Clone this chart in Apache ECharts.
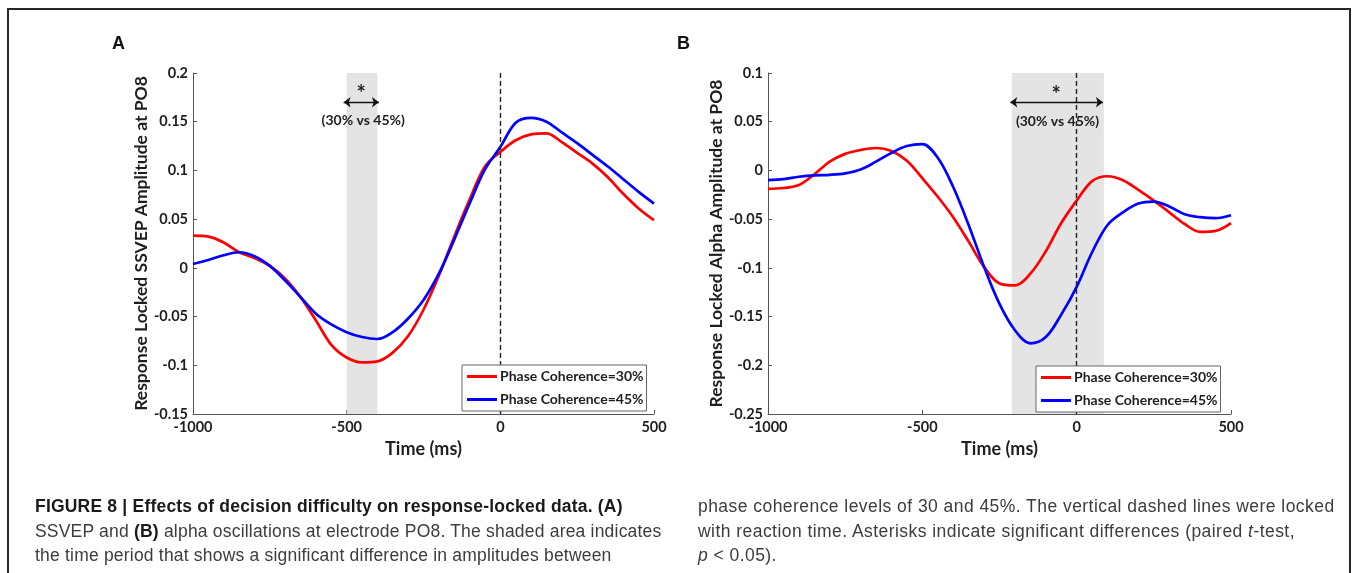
<!DOCTYPE html>
<html>
<head>
<meta charset="utf-8">
<script src="https://cdn.jsdelivr.net/npm/echarts@6/dist/echarts.min.js"></script>
<style>
    html, body { margin: 0; padding: 0; background: #fff; }
    #wrap { position: relative; width: 1355px; height: 573px; overflow: hidden; }
    #chart { position: absolute; left: 0; top: 0; width: 1355px; height: 573px; }
    #frame { position: absolute; left: 7px; top: 8px; width: 1344px; height: 600px; border: 2px solid #262626; box-sizing: border-box; pointer-events: none; }
    .caption { position: absolute; top: 494px; font-family: "Liberation Sans", Arial, sans-serif; font-size: 17.5px; letter-spacing: 0.2px; line-height: 24.7px; color: #3c3c3c; white-space: nowrap; }
    .caption b { color: #1a1a1a; letter-spacing: 0.2px; }
</style>
</head>
<body>
<div id="wrap">
    <div id="chart"></div>
    <div id="frame"></div>
    <div class="caption" style="left:35px"><b>FIGURE 8 | Effects of decision difficulty on response-locked data. (A)</b><br>SSVEP and <b>(B)</b> alpha oscillations at electrode PO8. The shaded area indicates<br>the time period that shows a significant difference in amplitudes between</div>
    <div class="caption" style="left:698px; letter-spacing:0.45px">phase coherence levels of 30 and 45%. The vertical dashed lines were locked<br>with reaction time. Asterisks indicate significant differences (paired <i>t</i>-test,<br><i>p</i> &lt; 0.05).</div>
</div>
<script>
document.addEventListener('DOMContentLoaded', function() {

    const timeMs = [-1000, -950, -900, -850, -800, -750, -700, -650, -600, -550, -500, -450, -400, -350, -300, -250,
        -200, -150, -100, -50, 0, 50, 100, 150, 200, 250, 300, 350, 400, 450, 500];

    // panel A: SSVEP amplitude
    const ssvep30 = [0.033, 0.032, 0.026, 0.016, 0.010, 0.002, -0.011, -0.030, -0.054, -0.079, -0.092, -0.097, -0.096, -0.087, -0.070, -0.043,
        -0.008, 0.032, 0.070, 0.104, 0.119, 0.131, 0.137, 0.138, 0.129, 0.118, 0.107, 0.093, 0.076, 0.061, 0.049];
    const ssvep45 = [0.004, 0.008, 0.013, 0.016, 0.012, 0.002, -0.013, -0.030, -0.047, -0.058, -0.066, -0.071, -0.073, -0.066, -0.052, -0.033,
        -0.006, 0.029, 0.066, 0.101, 0.124, 0.149, 0.154, 0.150, 0.139, 0.128, 0.116, 0.104, 0.091, 0.078, 0.066];

    // panel B: alpha amplitude
    const alpha30 = [-0.019, -0.018, -0.015, -0.004, 0.009, 0.017, 0.021, 0.023, 0.020, 0.010, -0.008, -0.027, -0.048, -0.073, -0.099, -0.116,
        -0.118, -0.106, -0.083, -0.054, -0.031, -0.011, -0.006, -0.010, -0.020, -0.031, -0.043, -0.055, -0.063, -0.062, -0.054];
    const alpha45 = [-0.010, -0.009, -0.0065, -0.005, -0.0045, -0.003, 0.001, 0.009, 0.018, 0.025, 0.027, 0.013, -0.017, -0.056, -0.099, -0.137,
        -0.164, -0.1775, -0.171, -0.148, -0.1195, -0.084, -0.056, -0.043, -0.034, -0.032, -0.037, -0.045, -0.048, -0.049, -0.046];

    const seriesNames = ['Phase Coherence=30%', 'Phase Coherence=45%'];
    const xTicks = { min: -1000, max: 500, interval: 500 };
    const yTicksA = { min: -0.15, max: 0.2, interval: 0.05 };
    const yTicksB = { min: -0.25, max: 0.1, interval: 0.05 };

    // significant windows (ms) and annotation heights
    const shadeA = [-500, -400];
    const shadeB = [-210, 88];
    const arrowA = [-510, -395, 0.17];
    const arrowB = [-215, 85, 0.07];
    const starA = [-453, 0.179];
    const starB = [-66, 0.078];
    const noteA = [-446, 0.151];
    const noteB = [-62, 0.0505];

    const font = 'Lato, "Open Sans", sans-serif';
    const ink = '#1e1e1e';

    const pairs = (ys) => timeMs.map((t, i) => [t, ys[i]]);

    const xAxis = (idx) => ({
        type: 'value',
        gridIndex: idx,
        min: xTicks.min,
        max: xTicks.max,
        interval: xTicks.interval,
        name: 'Time (ms)',
        nameLocation: 'middle',
        nameGap: 21,
        nameTextStyle: { fontFamily: font, fontWeight: 'bold', fontSize: 18, color: ink },
        axisLine: { onZero: false, lineStyle: { color: '#555', width: 1 } },
        axisTick: { inside: true, length: 4, lineStyle: { color: '#555' } },
        axisLabel: { fontFamily: font, fontWeight: 'bold', fontSize: 14.5, color: ink, margin: 6, formatter: (v) => String(v) },
        splitLine: { show: false }
    });

    const yAxis = (idx, ticks, title) => ({
        type: 'value',
        gridIndex: idx,
        min: ticks.min,
        max: ticks.max,
        interval: ticks.interval,
        name: title,
        nameLocation: 'middle',
        nameGap: 42,
        nameTextStyle: { fontFamily: font, fontWeight: 'bold', fontSize: 17.5, color: ink },
        axisLine: { show: true, onZero: false, lineStyle: { color: '#555', width: 1 } },
        axisTick: { show: true, inside: true, length: 4, lineStyle: { color: '#555' } },
        axisLabel: { fontFamily: font, fontWeight: 'bold', fontSize: 14.5, color: ink, margin: 5 },
        splitLine: { show: false }
    });

    const annotations = (shade, arrow, star, note) => ({
        markArea: {
            silent: true,
            itemStyle: { color: '#e4e4e4' },
            data: [[{ xAxis: shade[0] }, { xAxis: shade[1] }]]
        },
        markLine: {
            silent: true,
            symbol: ['arrow', 'arrow'],
            symbolSize: [8, 7],
            lineStyle: { color: '#111', width: 1.3, type: 'solid' },
            label: { show: false },
            data: [[{ coord: [arrow[0], arrow[2]] }, { coord: [arrow[1], arrow[2]] }]]
        },
        markPoint: {
            silent: true,
            symbol: 'circle',
            symbolSize: 0,
            label: { show: true, color: ink, fontFamily: font, fontWeight: 'bold', position: 'inside' },
            data: [
                { coord: star, label: { formatter: '*', fontSize: 22 } },
                { coord: note, label: { formatter: '(30% vs 45%)', fontSize: 14 } }
            ]
        }
    });

    const zeroLine = {
        silent: true,
        symbol: ['none', 'none'],
        lineStyle: { color: '#222', width: 1.4, type: [5, 3] },
        label: { show: false },
        data: [{ xAxis: 0 }]
    };

    const line = (name, idx, ys, color, extra) => Object.assign({
        name: name,
        type: 'line',
        xAxisIndex: idx,
        yAxisIndex: idx,
        data: pairs(ys),
        smooth: 0.35,
        symbol: 'none',
        lineStyle: { color: color, width: 2.7 },
        itemStyle: { color: color },
        animation: false,
        z: 3
    }, extra);

    const legend = (left, top) => ({
        orient: 'vertical',
        left: left,
        top: top,
        data: seriesNames,
        icon: 'rect',
        itemWidth: 30,
        itemHeight: 3,
        itemGap: 6,
        padding: [3, 3, 3, 5],
        borderColor: '#666',
        borderWidth: 1,
        borderRadius: 0,
        backgroundColor: '#fff',
        selectedMode: false,
        textStyle: { fontFamily: font, fontWeight: 'bold', fontSize: 14, color: ink, lineHeight: 17, padding: [0, 0, 0, -2] },
        z: 10
    });

    const chart = echarts.init(document.getElementById('chart'));
    chart.setOption({
        animation: false,
        backgroundColor: 'transparent',
        grid: [
            { left: 193, top: 73, width: 461, height: 341 },
            { left: 768, top: 73, width: 463, height: 341 }
        ],
        xAxis: [xAxis(0), xAxis(1)],
        yAxis: [
            yAxis(0, yTicksA, 'Response Locked SSVEP Amplitude at PO8'),
            yAxis(1, yTicksB, 'Response Locked Alpha Amplitude at PO8')
        ],
        legend: [legend(462, 365), legend(1036, 366)],
        graphic: [
            { type: 'text', left: 112, top: 35, style: { text: 'A', font: 'bold 18px "Liberation Sans", Arial', fill: '#111' } },
            { type: 'text', left: 677, top: 35, style: { text: 'B', font: 'bold 18px "Liberation Sans", Arial', fill: '#111' } }
        ],
        series: [
            line(seriesNames[0], 0, ssvep30, '#ff0000', annotations(shadeA, arrowA, starA, noteA)),
            line(seriesNames[1], 0, ssvep45, '#0000ff', { markLine: zeroLine }),
            line(seriesNames[0], 1, alpha30, '#ff0000', annotations(shadeB, arrowB, starB, noteB)),
            line(seriesNames[1], 1, alpha45, '#0000ff', { markLine: zeroLine })
        ]
    });

});
</script>
</body>
</html>
